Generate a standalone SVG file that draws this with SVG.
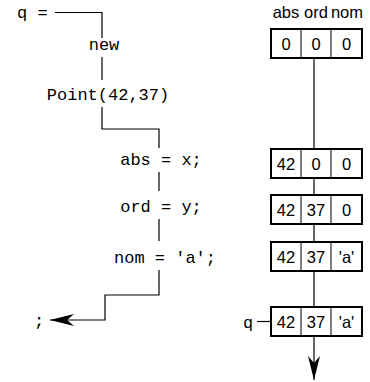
<svg xmlns="http://www.w3.org/2000/svg" width="370" height="382" viewBox="0 0 370 382">
<style>
.code{font-family:"Liberation Mono","DejaVu Sans Mono",monospace;font-size:17px;fill:#000}
.lab{font-family:"Liberation Sans",Arial,sans-serif;font-size:16.5px;fill:#000;text-anchor:middle}
.ln{stroke:#000;stroke-width:1.2;fill:none}
.box{stroke:#000;stroke-width:2;fill:#fff}
.div{stroke:#000;stroke-width:1}
</style>
<defs>
<marker id="ah" markerWidth="26" markerHeight="12" refX="24" refY="6" orient="auto" markerUnits="userSpaceOnUse">
<path d="M0,0 L24,6 L0,12 L7,6 Z" fill="#000"/>
</marker>
</defs>
<g id="connectors">
<polyline class="ln" points="55,12.5 102,12.5 102,38"/>
<line class="ln" x1="102" y1="57" x2="102" y2="80"/>
<polyline class="ln" points="102,107 102,129 159,129 159,148"/>
<line class="ln" x1="159" y1="172" x2="159" y2="191"/>
<line class="ln" x1="159" y1="219" x2="159" y2="241"/>
<polyline class="ln" points="159,270 159,295 105,295 105,320 50,320" marker-end="url(#ah)"/>
<line class="ln" x1="314" y1="58" x2="314" y2="149"/>
<line class="ln" x1="314" y1="178" x2="314" y2="195"/>
<line class="ln" x1="314" y1="224" x2="314" y2="242"/>
<line class="ln" x1="314" y1="271" x2="314" y2="307"/>
<line class="ln" x1="314" y1="336" x2="314" y2="380" marker-end="url(#ah)"/>
<line class="ln" x1="257" y1="321.5" x2="271" y2="321.5"/>
</g>
<g id="code">
<text class="code" x="17" y="18">q =</text>
<text class="code" x="104" y="50" text-anchor="middle">new</text>
<text class="code" x="108" y="100" text-anchor="middle">Point(42,37)</text>
<text class="code" x="161" y="165" text-anchor="middle">abs = x;</text>
<text class="code" x="161" y="212" text-anchor="middle">ord = y;</text>
<text class="code" x="165" y="263" text-anchor="middle">nom = 'a';</text>
<text class="code" x="39" y="326" text-anchor="middle">;</text>
</g>
<g id="header">
<text class="lab" x="286" y="18">abs</text>
<text class="lab" x="316" y="18">ord</text>
<text class="lab" x="347" y="18">nom</text>
</g>
<g id="box1">
<rect class="box" x="271" y="29" width="91" height="29"/>
<line class="div" x1="301" y1="29" x2="301" y2="58"/><line class="div" x1="331" y1="29" x2="331" y2="58"/>
<text class="lab" x="286" y="49.5">0</text><text class="lab" x="316" y="49.5">0</text><text class="lab" x="346.5" y="49.5">0</text>
</g>
<g id="box2">
<rect class="box" x="271" y="149" width="91" height="29"/>
<line class="div" x1="301" y1="149" x2="301" y2="178"/><line class="div" x1="331" y1="149" x2="331" y2="178"/>
<text class="lab" x="286" y="169.5">42</text><text class="lab" x="316" y="169.5">0</text><text class="lab" x="346.5" y="169.5">0</text>
</g>
<g id="box3">
<rect class="box" x="271" y="195" width="91" height="29"/>
<line class="div" x1="301" y1="195" x2="301" y2="224"/><line class="div" x1="331" y1="195" x2="331" y2="224"/>
<text class="lab" x="286" y="215.5">42</text><text class="lab" x="316" y="215.5">37</text><text class="lab" x="346.5" y="215.5">0</text>
</g>
<g id="box4">
<rect class="box" x="271" y="242" width="91" height="29"/>
<line class="div" x1="301" y1="242" x2="301" y2="271"/><line class="div" x1="331" y1="242" x2="331" y2="271"/>
<text class="lab" x="286" y="262.5">42</text><text class="lab" x="316" y="262.5">37</text><text class="lab" x="346.5" y="262.5">'a'</text>
</g>
<g id="box5">
<rect class="box" x="271" y="307" width="91" height="29"/>
<line class="div" x1="301" y1="307" x2="301" y2="336"/><line class="div" x1="331" y1="307" x2="331" y2="336"/>
<text class="lab" x="286" y="327.5">42</text><text class="lab" x="316" y="327.5">37</text><text class="lab" x="346.5" y="327.5">'a'</text>
<text class="lab" x="248" y="327.5">q</text>
</g>
</svg>
